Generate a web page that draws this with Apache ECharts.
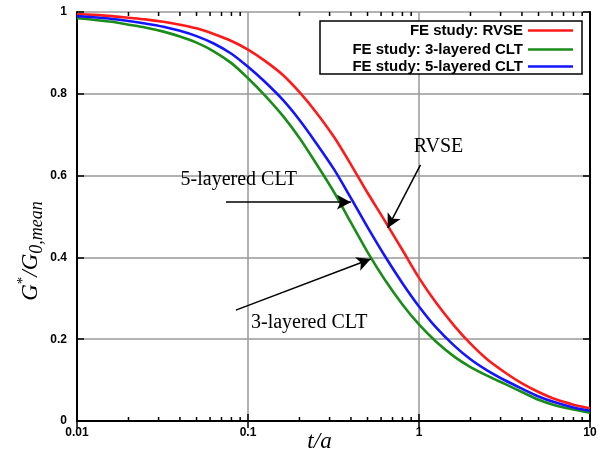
<!DOCTYPE html>
<html>
<head>
<meta charset="utf-8">
<script src="https://cdn.jsdelivr.net/npm/echarts@6/dist/echarts.min.js"></script>
<style>
html, body { margin: 0; padding: 0; background: #fff; }
#main { width: 602px; height: 456px; }
</style>
</head>
<body>
<div id="main"></div>
<script>
var tValues = [0.01, 0.0125, 0.016, 0.02, 0.025, 0.032, 0.04, 0.05, 0.063, 0.08,
               0.1, 0.125, 0.16, 0.2, 0.25, 0.32, 0.4, 0.5, 0.63, 0.8,
               1, 1.25, 1.6, 2, 2.5, 3.2, 4, 5, 6.3, 8, 10];
var rvse = [0.995, 0.993, 0.990, 0.986, 0.982, 0.976, 0.969, 0.960, 0.946, 0.929,
            0.908, 0.881, 0.846, 0.804, 0.755, 0.693, 0.627, 0.558, 0.490, 0.418,
            0.350, 0.291, 0.234, 0.189, 0.151, 0.118, 0.092, 0.071, 0.053, 0.040, 0.031];
var clt3 = [0.985, 0.981, 0.976, 0.969, 0.962, 0.952, 0.940, 0.925, 0.904, 0.875,
            0.838, 0.797, 0.746, 0.692, 0.630, 0.558, 0.485, 0.413, 0.346, 0.285,
            0.236, 0.195, 0.158, 0.132, 0.111, 0.090, 0.071, 0.052, 0.038, 0.028, 0.020];
var clt5 = [0.990, 0.987, 0.983, 0.978, 0.972, 0.964, 0.954, 0.941, 0.923, 0.898,
            0.866, 0.830, 0.785, 0.736, 0.680, 0.614, 0.545, 0.474, 0.404, 0.337,
            0.280, 0.230, 0.185, 0.151, 0.124, 0.099, 0.079, 0.060, 0.045, 0.033, 0.025];
var seriesNames = ['FE study: RVSE', 'FE study: 3-layered CLT', 'FE study: 5-layered CLT'];
var minorTickVals = [0.02, 0.03, 0.04, 0.05, 0.06, 0.07, 0.08, 0.09,
                     0.2, 0.3, 0.4, 0.5, 0.6, 0.7, 0.8, 0.9,
                     2, 3, 4, 5, 6, 7, 8, 9];
// annotations: [text, text pos, arrow start, arrow end]
var notes = [
    ['RVSE', [1.30, 0.67], [1.02, 0.626], [0.656, 0.472]],
    ['5-layered CLT', [0.0883, 0.589], [0.0743, 0.535], [0.40, 0.535]],
    ['3-layered CLT', [0.228, 0.24], [0.0849, 0.271], [0.522, 0.396]]
];

function pairs(ys) {
    var out = [];
    for (var i = 0; i < tValues.length; i++) out.push([tValues[i], ys[i]]);
    return out;
}

var myChart = echarts.init(document.getElementById('main'));

var serif = 'Liberation Serif';
var sans = 'Liberation Sans';

function curve(name, data, color) {
    return {
        name: name,
        type: 'line',
        data: pairs(data),
        smooth: 0.3,
        symbol: 'none',
        lineStyle: { color: color, width: 2.6 },
        itemStyle: { color: color },
        z: 3
    };
}

function legendAt(name, top) {
    return {
        data: [name],
        right: 29,
        top: top,
        padding: 0,
        align: 'right',
        icon: 'rect',
        itemWidth: 45,
        itemHeight: 2.5,
        selectedMode: false,
        textStyle: { fontFamily: sans, fontWeight: 'bold', fontSize: 15, color: '#000' },
        z: 5
    };
}

var option = {
    backgroundColor: '#fff',
    animation: false,
    grid: { left: 77, right: 12, top: 12, bottom: 35, outerBoundsMode: 'none' },
    legend: [legendAt(seriesNames[0], 23), legendAt(seriesNames[1], 42), legendAt(seriesNames[2], 59)],
    graphic: [{
        type: 'rect',
        shape: { x: 320, y: 21, width: 262, height: 53 },
        style: { fill: '#fff', stroke: '#000', lineWidth: 1.5 },
        z: 4
    }],
    xAxis: [{
        type: 'log',
        logBase: 10,
        min: 0.01,
        max: 10,
        name: 't/a',
        nameLocation: 'middle',
        nameGap: 9,
        nameMoveOverlap: false,
        nameTextStyle: { fontFamily: serif, fontStyle: 'italic', fontSize: 23, color: '#000', padding: [0, 28, 0, 0] },
        axisLine: { lineStyle: { color: '#000', width: 2 } },
        axisTick: { inside: true, length: 7, lineStyle: { color: '#000', width: 1.5 } },
        axisLabel: { margin: 6, fontFamily: sans, fontWeight: 'bold', fontSize: 12, color: '#000' },
        splitLine: { show: true, lineStyle: { color: '#999', width: 1.5 } }
    }, {
        type: 'log',
        logBase: 10,
        min: 0.01,
        max: 10,
        position: 'top',
        axisLine: { lineStyle: { color: '#000', width: 2 } },
        axisTick: { inside: true, length: 7, lineStyle: { color: '#000', width: 1.5 } },
        axisLabel: { show: false },
        splitLine: { show: false }
    }],
    yAxis: [{
        type: 'value',
        min: 0,
        max: 1,
        interval: 0.2,
        name: '{i|G}{sup|*}{i|/G}{sub|0,mean}',
        nameLocation: 'middle',
        nameRotate: 90,
        nameGap: 31,
        nameMoveOverlap: false,
        nameTextStyle: {
            color: '#000',
            padding: [0, 69, 0, 0],
            rich: {
                i: { fontFamily: serif, fontStyle: 'italic', fontSize: 23, lineHeight: 30, color: '#000' },
                sup: { fontFamily: serif, fontSize: 15, lineHeight: 15, verticalAlign: 'top', color: '#000' },
                sub: { fontFamily: serif, fontStyle: 'italic', fontSize: 18, lineHeight: 18, verticalAlign: 'bottom', color: '#000' }
            }
        },
        axisLine: { show: true, lineStyle: { color: '#000', width: 2 } },
        axisTick: { show: true, inside: true, length: 7, lineStyle: { color: '#000', width: 1.5 } },
        axisLabel: { margin: 10, fontFamily: sans, fontWeight: 'bold', fontSize: 12, color: '#000' },
        splitLine: { show: true, lineStyle: { color: '#999', width: 1.5 } }
    }, {
        type: 'value',
        min: 0,
        max: 1,
        interval: 0.2,
        position: 'right',
        axisLine: { show: true, lineStyle: { color: '#000', width: 2 } },
        axisTick: { show: true, inside: true, length: 7, lineStyle: { color: '#000', width: 1.5 } },
        axisLabel: { show: false },
        splitLine: { show: false }
    }],
    series: [
        curve(seriesNames[0], rvse, '#ff1a1a'),
        curve(seriesNames[1], clt3, '#1a8c1a'),
        curve(seriesNames[2], clt5, '#1414ff'),
        {
            // minor log ticks, bottom and top
            type: 'custom',
            silent: true,
            data: minorTickVals.map(function (v) { return [v]; }),
            renderItem: function (params, api) {
                var b = api.coord([api.value(0), 0]);
                var t = api.coord([api.value(0), 1]);
                return {
                    type: 'group',
                    children: [
                        { type: 'line', shape: { x1: b[0], y1: b[1], x2: b[0], y2: b[1] - 4 }, style: { stroke: '#000', lineWidth: 1.5 } },
                        { type: 'line', shape: { x1: t[0], y1: t[1], x2: t[0], y2: t[1] + 4 }, style: { stroke: '#000', lineWidth: 1.5 } }
                    ]
                };
            },
            z: 4
        },
        {
            // annotation arrows and texts
            type: 'line',
            data: [],
            silent: true,
            markLine: {
                silent: true,
                symbol: ['none', 'arrow'],
                symbolSize: [11, 14],
                label: { show: false },
                lineStyle: { color: '#000', width: 1.5, type: 'solid' },
                data: notes.map(function (n) { return [{ coord: n[2] }, { coord: n[3] }]; })
            },
            markPoint: {
                silent: true,
                symbol: 'circle',
                symbolSize: 0,
                label: {
                    show: true,
                    position: 'inside',
                    fontFamily: serif,
                    fontSize: 20,
                    color: '#000'
                },
                data: notes.map(function (n) {
                    return { coord: n[1], value: n[0], label: { formatter: n[0] } };
                })
            },
            z: 5
        }
    ]
};

myChart.setOption(option);
</script>
</body>
</html>
